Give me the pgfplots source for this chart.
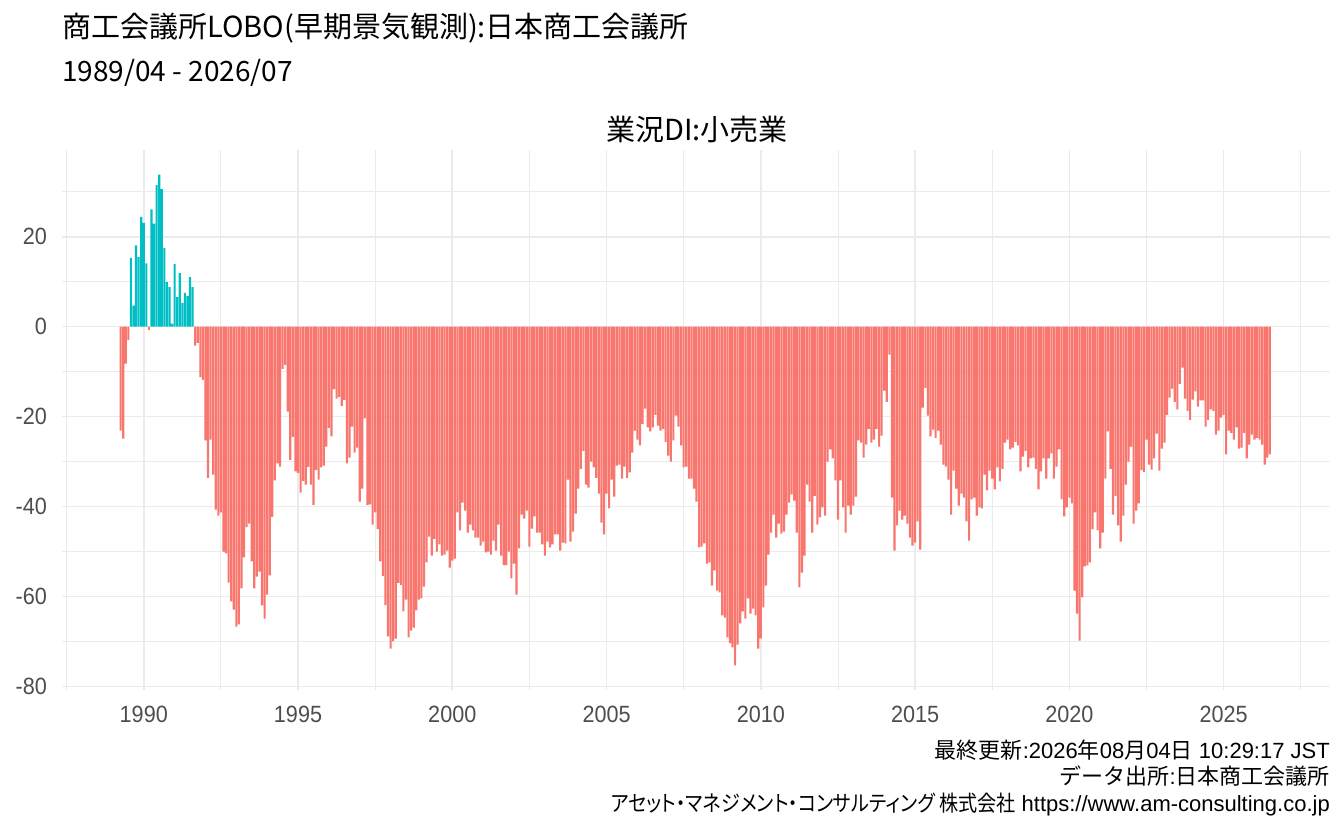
\documentclass[border=0pt]{standalone}
\usepackage{fontspec}
\usepackage{pgfplots}
\usepackage{pgfplotstable}
\pgfplotsset{compat=1.18}
\setmainfont{Liberation Sans}
\newfontfamily\cjk{Noto Sans CJK JP}
\newfontfamily\tickfam[FakeStretch=0.92]{Liberation Sans}
\newfontfamily\capfam{Liberation Sans}
\newfontfamily\capcjk{Noto Sans CJK JP}
\newfontfamily\capkana[FakeStretch=0.87,RawFeature=+palt]{Noto Sans CJK JP}
\definecolor{poscol}{HTML}{00BFC4}
\definecolor{negcol}{HTML}{F8766D}
\definecolor{gridc}{HTML}{EBEBEB}
\definecolor{tickc}{HTML}{4D4D4D}

\pgfplotstableread[row sep=\\]{
v\\
-23.1\\ -24.9\\ -8.2\\ -3.0\\ 15.3\\ 4.7\\ 18.1\\ 15.5\\ 24.4\\
23.1\\ 14.1\\ -0.7\\ 26.1\\ 22.9\\ 31.5\\ 33.8\\ 30.6\\ 17.5\\ 9.9\\ 8.8\\ 0.7\\
13.9\\ 6.6\\ 11.9\\ 5.3\\ 7.5\\ 6.8\\ 11.0\\ 8.8\\ -4.2\\ -3.6\\ -11.2\\ -11.8\\
-25.3\\ -33.6\\ -25.1\\ -32.9\\ -40.7\\ -42.0\\ -41.3\\ -50.0\\ -50.4\\ -56.9\\ -61.1\\ -62.9\\
-66.7\\ -66.2\\ -58.2\\ -51.3\\ -44.6\\ -43.8\\ -52.2\\ -58.2\\ -55.6\\ -54.5\\ -62.0\\ -64.9\\
-59.6\\ -55.3\\ -42.3\\ -34.2\\ -30.4\\ -31.1\\ -9.4\\ -8.5\\ -18.9\\ -29.6\\ -24.5\\ -32.2\\
-32.5\\ -36.9\\ -34.3\\ -35.1\\ -31.2\\ -35.1\\ -39.6\\ -31.9\\ -34.0\\ -31.3\\ -30.9\\ -26.7\\
-22.5\\ -24.4\\ -13.9\\ -16.0\\ -15.6\\ -17.6\\ -16.3\\ -30.4\\ -29.1\\ -22.2\\ -28.0\\ -26.9\\
-38.9\\ -36.0\\ -20.4\\ -39.7\\ -39.5\\ -44.0\\ -41.3\\ -45.0\\ -52.2\\ -55.4\\ -61.9\\ -68.9\\
-71.6\\ -70.0\\ -69.4\\ -57.0\\ -57.4\\ -63.3\\ -60.7\\ -69.1\\ -67.6\\ -66.9\\ -63.1\\ -60.7\\
-60.4\\ -57.8\\ -52.4\\ -46.7\\ -50.9\\ -47.2\\ -50.0\\ -48.4\\ -50.9\\ -50.7\\ -49.8\\ -53.6\\
-52.0\\ -51.6\\ -41.3\\ -45.3\\ -39.1\\ -40.9\\ -45.8\\ -44.0\\ -45.3\\ -46.9\\ -46.9\\ -48.7\\
-47.8\\ -50.2\\ -50.0\\ -50.7\\ -47.6\\ -49.8\\ -44.0\\ -50.9\\ -53.0\\ -53.0\\ -50.0\\ -56.0\\
-52.7\\ -59.6\\ -49.3\\ -41.8\\ -42.7\\ -40.9\\ -48.9\\ -44.9\\ -42.2\\ -45.8\\ -45.8\\ -48.4\\
-50.9\\ -47.8\\ -49.1\\ -48.4\\ -46.2\\ -46.2\\ -49.8\\ -48.0\\ -48.2\\ -34.0\\ -47.8\\ -45.6\\
-41.6\\ -36.0\\ -31.6\\ -27.6\\ -35.1\\ -35.8\\ -30.0\\ -31.3\\ -33.6\\ -37.1\\ -43.6\\ -46.2\\
-37.1\\ -40.4\\ -34.0\\ -37.8\\ -30.9\\ -30.7\\ -33.8\\ -31.1\\ -33.6\\ -32.4\\ -28.0\\ -23.1\\
-25.1\\ -26.4\\ -21.6\\ -18.2\\ -22.4\\ -23.3\\ -22.4\\ -19.6\\ -22.0\\ -23.1\\ -22.7\\ -25.6\\
-28.7\\ -30.0\\ -25.3\\ -19.8\\ -22.2\\ -26.4\\ -31.3\\ -31.1\\ -33.8\\ -33.8\\ -36.0\\ -38.9\\
-49.1\\ -48.9\\ -48.2\\ -52.7\\ -52.4\\ -57.6\\ -54.2\\ -58.7\\ -59.1\\ -64.2\\ -64.7\\ -69.1\\
-70.4\\ -71.3\\ -75.3\\ -70.7\\ -66.0\\ -63.3\\ -64.9\\ -60.4\\ -63.8\\ -62.7\\ -64.2\\ -71.6\\
-69.3\\ -62.4\\ -57.6\\ -50.7\\ -45.8\\ -41.8\\ -46.9\\ -43.8\\ -46.0\\ -45.6\\ -41.8\\ -39.1\\
-37.3\\ -38.7\\ -45.8\\ -58.0\\ -54.7\\ -50.9\\ -35.1\\ -38.9\\ -45.8\\ -37.6\\ -44.0\\ -42.4\\
-40.2\\ -42.0\\ -30.0\\ -27.3\\ -29.3\\ -34.2\\ -42.9\\ -34.2\\ -40.2\\ -45.8\\ -39.8\\ -41.8\\
-39.8\\ -37.8\\ -25.3\\ -25.8\\ -29.1\\ -26.2\\ -22.7\\ -25.8\\ -25.1\\ -22.7\\ -26.7\\ -24.2\\
-14.2\\ -16.7\\ -6.2\\ -38.0\\ -49.8\\ -44.2\\ -40.9\\ -42.9\\ -42.0\\ -43.8\\ -46.9\\ -48.7\\
-48.0\\ -43.3\\ -49.6\\ -18.0\\ -13.6\\ -19.8\\ -24.4\\ -22.9\\ -24.7\\ -23.1\\ -26.2\\ -30.7\\
-31.1\\ -34.0\\ -41.8\\ -32.0\\ -36.0\\ -39.8\\ -37.1\\ -38.0\\ -43.3\\ -47.6\\ -38.4\\ -38.0\\
-42.0\\ -40.2\\ -40.4\\ -32.9\\ -36.4\\ -32.0\\ -33.8\\ -36.2\\ -31.3\\ -34.4\\ -31.6\\ -25.8\\
-25.1\\ -27.3\\ -26.9\\ -25.6\\ -26.4\\ -32.2\\ -28.9\\ -27.6\\ -31.3\\ -29.3\\ -29.1\\ -31.6\\
-36.2\\ -32.2\\ -29.3\\ -33.8\\ -29.3\\ -28.2\\ -33.8\\ -31.1\\ -27.3\\ -38.4\\ -42.2\\ -40.2\\
-38.0\\ -39.3\\ -58.7\\ -63.8\\ -69.8\\ -60.2\\ -53.3\\ -53.1\\ -52.4\\ -45.1\\ -41.3\\ -45.3\\
-49.3\\ -45.8\\ -33.8\\ -23.3\\ -31.6\\ -41.8\\ -37.6\\ -44.2\\ -47.8\\ -42.0\\ -35.1\\ -30.0\\
-26.7\\ -43.8\\ -40.9\\ -39.3\\ -31.9\\ -32.3\\ -25.1\\ -30.7\\ -31.8\\ -29.3\\ -23.8\\ -32.0\\
-27.1\\ -25.8\\ -19.6\\ -15.8\\ -13.8\\ -16.7\\ -18.4\\ -12.7\\ -9.1\\ -16.0\\ -18.7\\ -20.7\\
-16.2\\ -14.4\\ -17.8\\ -16.4\\ -16.4\\ -22.2\\ -20.7\\ -18.4\\ -18.7\\ -24.0\\ -23.1\\ -20.2\\
-19.6\\ -28.4\\ -23.1\\ -23.6\\ -25.1\\ -22.4\\ -27.1\\ -26.9\\ -23.6\\ -29.3\\ -26.2\\ -24.0\\
-25.1\\ -24.7\\ -25.1\\ -26.2\\ -30.7\\ -29.1\\ -28.4\\
}\lobo

\begin{document}
\begin{tikzpicture}
\path[use as bounding box] (0,0) rectangle (1344bp,830bp);
\begin{axis}[
  at={(62bp,140bp)}, anchor=south west,
  scale only axis, width=1268bp, height=540bp,
  xmin=1987.35, xmax=2028.45, ymin=-80.8, ymax=39.3,
  ybar, bar width=0.069, bar shift=0pt,
  axis line style={draw=none},
  tick style={draw=none},
  major tick length=0pt, minor tick length=0pt,
  xtick={1990,1995,2000,2005,2010,2015,2020,2025},
  xticklabels={1990,1995,2000,2005,2010,2015,2020,2025},
  minor xtick={1987.5,1992.5,1997.5,2002.5,2007.5,2012.5,2017.5,2022.5,2027.5},
  ytick={-80,-60,-40,-20,0,20},
  yticklabels={-80,-60,-40,-20,0,20},
  minor ytick={-70,-50,-30,-10,10,30},
  grid=both,
  major grid style={draw=gridc, line width=1.6bp},
  minor grid style={draw=gridc, line width=0.8bp},
  ticklabel style={font=\fontsize{23.5bp}{28bp}\tickfam, text=tickc, inner sep=0pt},
  xticklabel style={anchor=base, yshift=-33bp},
  yticklabel style={anchor=east, xshift=-15bp},
  clip=false,
]
\addplot[fill=poscol, draw=none, restrict y to domain=0:100] table[x expr=1989.25+\coordindex/12, y=v]{\lobo};
\addplot[fill=negcol, draw=none, restrict y to domain=-100:0] table[x expr=1989.25+\coordindex/12, y=v]{\lobo};
\end{axis}
\node[anchor=base west, inner sep=0pt, font=\fontsize{29bp}{33bp}\cjk] at (62bp,792bp) {商工会議所LOBO(早期景気観測):日本商工会議所};
\node[anchor=base west, inner sep=0pt, font=\fontsize{28bp}{32bp}\cjk] at (62bp,748bp) {1989/04 - 2026/07};
\node[anchor=base, inner sep=0pt, font=\fontsize{29bp}{33bp}\cjk] at (697bp,689bp) {業況DI:小売業};
\node[anchor=base east, inner sep=0pt, font=\fontsize{22bp}{26bp}\capfam] at (1330bp,71bp) {{\capcjk 最終更新}:2026{\capcjk 年}08{\capcjk 月}04{\capcjk 日} 10:29:17 JST};
\node[anchor=base east, inner sep=0pt, font=\fontsize{22bp}{26bp}\capfam] at (1330bp,45bp) {{\capcjk データ出所}:{\capcjk 日本商工会議所}};
\node[anchor=base east, inner sep=0pt, font=\fontsize{22bp}{26bp}\capfam] at (1330bp,19bp) {{\capkana アセット・マネジメント・コンサルティング 株式会社} https://www.am-consulting.co.jp};
\end{tikzpicture}
\end{document}
